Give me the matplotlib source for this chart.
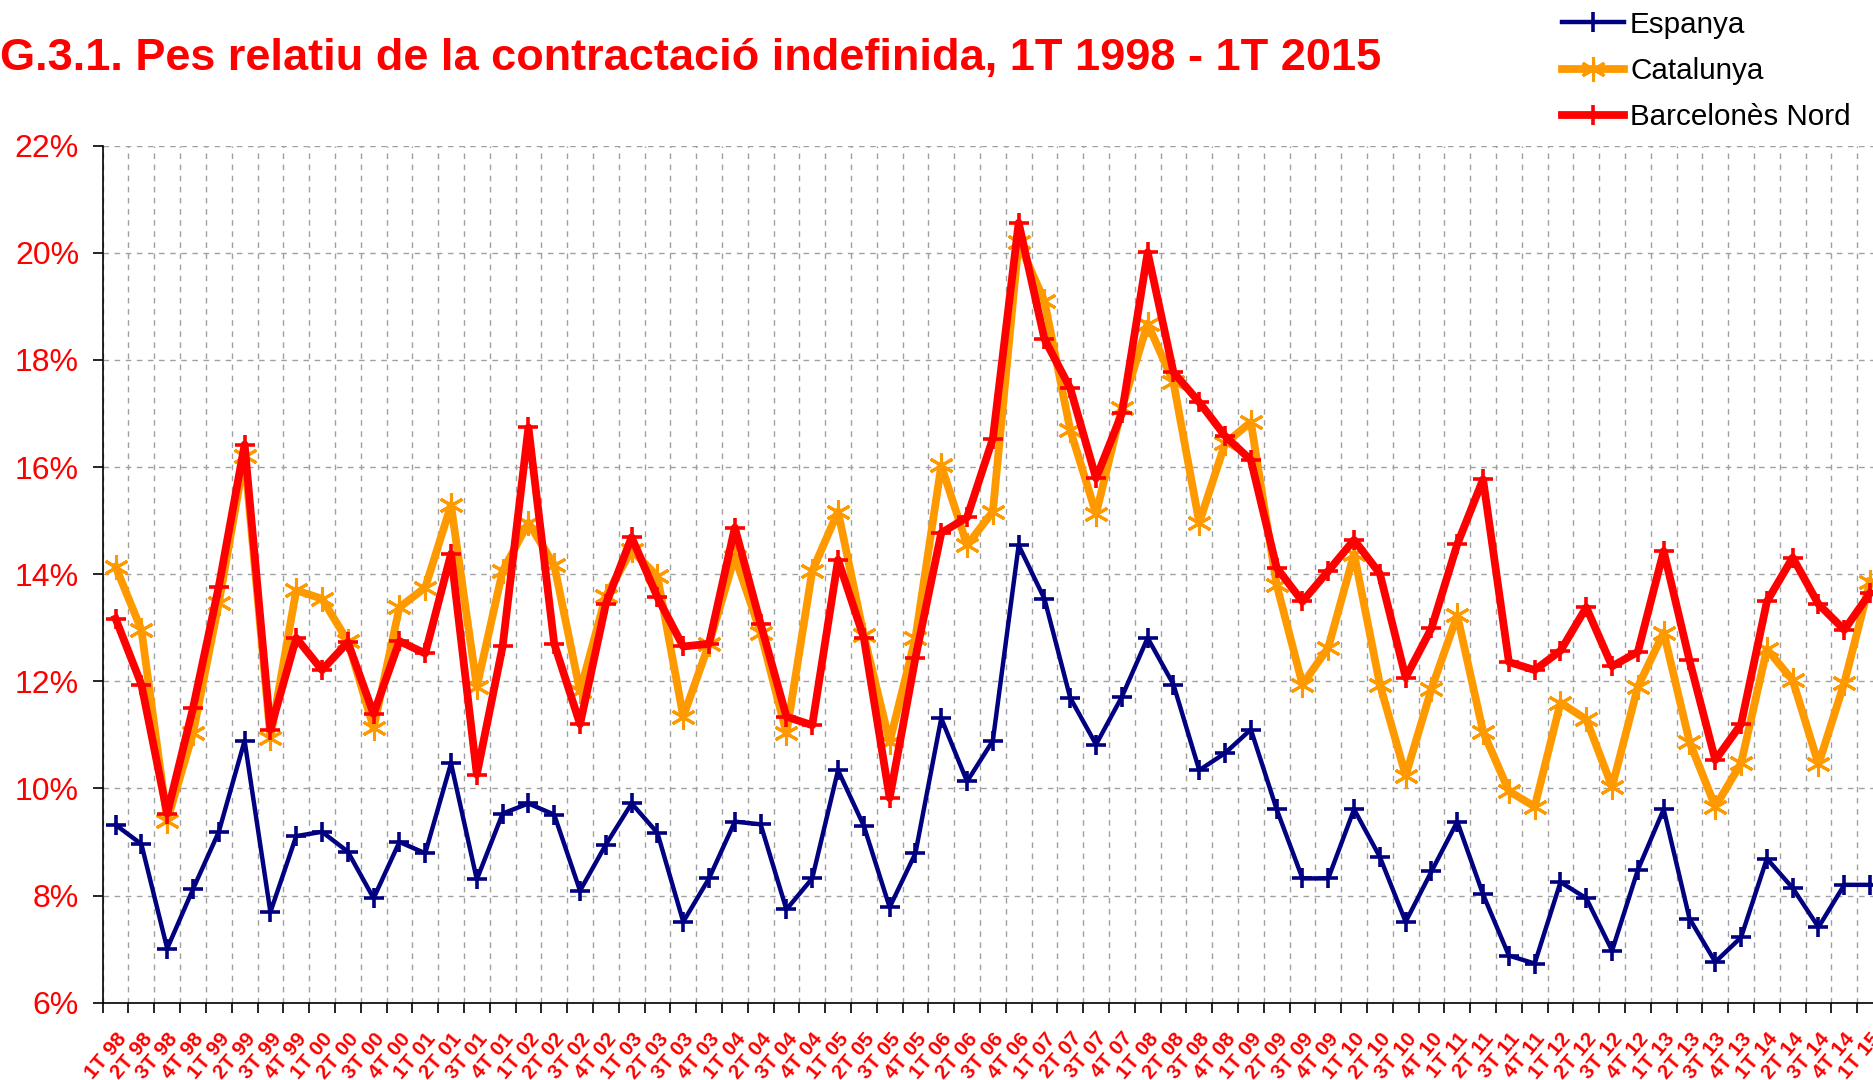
import numpy as np
import matplotlib
matplotlib.use('Agg')
import matplotlib.pyplot as plt
from matplotlib.ticker import FixedLocator

plt.rcParams['font.family'] = ['Liberation Sans', 'DejaVu Sans']

# Quarter labels, 1T 98 .. 1T 15
years = ['98', '99', '00', '01', '02', '03', '04', '05', '06', '07',
         '08', '09', '10', '11', '12', '13', '14']
quarter_labels = [f'{q}T {y}' for y in years for q in range(1, 5)] + ['1T 15']

# Pes relatiu de la contractacio indefinida (%)
espanya = [9.32, 8.96, 7.01, 8.12, 9.19, 10.89, 7.69, 9.11, 9.19, 8.82,
           7.95, 9.00, 8.79, 10.47, 8.30, 9.53, 9.72, 9.51, 8.09, 8.95,
           9.72, 9.17, 7.51, 8.32, 9.38, 9.33, 7.74, 8.32, 10.34, 9.30,
           7.78, 8.79, 11.31, 10.13, 10.89, 14.54, 13.54, 11.69, 10.82, 11.71,
           12.81, 11.94, 10.34, 10.66, 11.10, 9.61, 8.32, 8.32, 9.61, 8.72,
           7.51, 8.45, 9.38, 8.02, 6.88, 6.73, 8.25, 7.95, 6.97, 8.48,
           9.61, 7.57, 6.76, 7.22, 8.69, 8.14, 7.41, 8.20, 8.20]

catalunya = [14.14, 12.96, 9.40, 11.03, 13.46, 16.21, 10.95, 13.70, 13.54, 12.75,
             11.13, 13.38, 13.75, 15.29, 11.90, 14.06, 14.96, 14.17, 11.81, 13.59,
             14.45, 13.96, 11.34, 12.70, 14.33, 12.91, 11.03, 14.06, 15.17, 12.86,
             10.87, 12.81, 16.03, 14.54, 15.17, 20.20, 19.10, 16.69, 15.13, 17.10,
             18.68, 17.58, 14.96, 16.44, 16.84, 13.80, 11.94, 12.63, 14.38, 11.94,
             10.24, 11.86, 13.23, 11.06, 9.95, 9.66, 11.60, 11.29, 10.03, 11.90,
             12.91, 10.87, 9.66, 10.47, 12.60, 12.02, 10.45, 11.97, 13.86]

barcelones_nord = [13.17, 11.94, 9.53, 11.50, 13.77, 16.42, 11.10, 12.81, 12.21, 12.73,
                   11.39, 12.75, 12.52, 14.38, 10.26, 12.65, 16.74, 12.70, 11.20, 13.44,
                   14.69, 13.57, 12.65, 12.70, 14.87, 13.07, 11.34, 11.18, 14.27, 12.81,
                   9.82, 12.44, 14.77, 15.06, 16.53, 20.56, 18.39, 17.47, 15.79, 17.00,
                   20.01, 17.77, 17.21, 16.58, 16.13, 14.12, 13.49, 14.06, 14.64, 14.01,
                   12.07, 12.99, 14.56, 15.77, 12.36, 12.21, 12.57, 13.38, 12.28, 12.55,
                   14.43, 12.39, 10.53, 11.20, 13.49, 14.31, 13.44, 12.96, 13.65]

RED = '#ff0000'
NAVY = '#000080'
ORANGE = '#ff9900'

fig = plt.figure(figsize=(18.74, 10.8), dpi=100)
# plot area runs slightly past the right edge, as in the original
ax = fig.add_axes([0.0548, 0.0716, 0.950, 0.7935])

x = np.arange(len(quarter_labels))

ax.plot(x, espanya, color=NAVY, lw=3.2, marker='+', ms=15, mew=2.6,
        label='Espanya', zorder=3)
ax.plot(x, catalunya, color=ORANGE, lw=5.6, marker=(6, 2, 0), ms=18, mew=2.2,
        label='Catalunya', zorder=4)
ax.plot(x, barcelones_nord, color=RED, lw=5.6, marker='+', ms=15, mew=2.6,
        label='Barcelonès Nord', zorder=5)

ax.set_xlim(-0.5, len(quarter_labels) - 0.5)
ax.set_ylim(6, 22)

# y axis
yticks = np.arange(6, 23, 2)
ax.set_yticks(yticks)
ax.set_yticklabels([f'{v:.0f}%' for v in yticks], fontsize=23, color=RED)
ax.tick_params(axis='y', length=7, width=1.2, pad=10, direction='out')

# x axis: labels at categories, ticks and grid between categories
ax.set_xticks(x)
ax.set_xticklabels(quarter_labels, fontsize=15, fontweight='bold', color=RED,
                   rotation=50, ha='right', va='top', rotation_mode='anchor')
ax.tick_params(axis='x', which='major', length=0, pad=19)
ax.xaxis.set_minor_locator(FixedLocator(np.arange(-0.5, len(quarter_labels), 1.0)))
ax.tick_params(axis='x', which='minor', length=7, width=1.2, direction='out')

ax.grid(axis='y', which='major', color='#a0a0a0', linestyle=(0, (4, 4)), lw=1)
ax.grid(axis='x', which='minor', color='#a0a0a0', linestyle=(0, (4, 4)), lw=1)
ax.set_axisbelow(True)

for side in ['top', 'right']:
    ax.spines[side].set_visible(False)
for side in ['left', 'bottom']:
    ax.spines[side].set_linewidth(1.2)
    ax.spines[side].set_color('black')

fig.text(0.0, 0.935, 'G.3.1. Pes relatiu de la contractació indefinida, 1T 1998 - 1T 2015',
         fontsize=32.5, fontweight='bold', color=RED, ha='left', va='baseline')

fig.legend(loc='upper left', bbox_to_anchor=(0.8335, 0.99), frameon=False,
           fontsize=21.3, handlelength=2.1, handletextpad=0.2, labelspacing=0.62,
           borderpad=0, borderaxespad=0)

fig.savefig('out.png', dpi=100)
